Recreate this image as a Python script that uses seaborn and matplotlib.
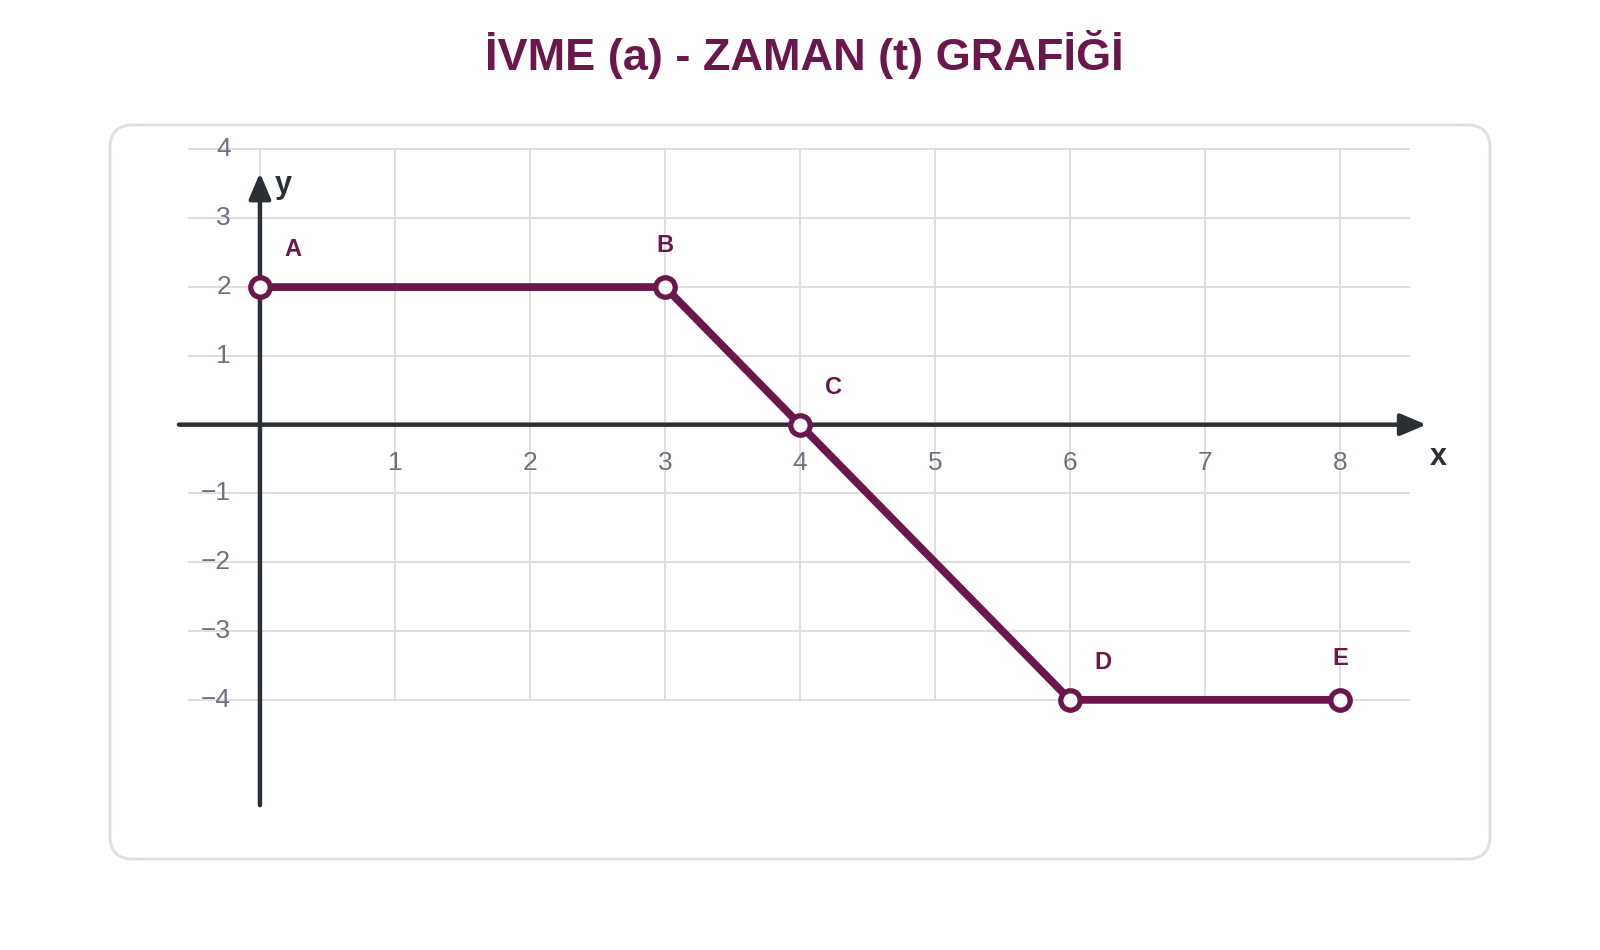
import matplotlib
matplotlib.use("Agg")
import matplotlib.pyplot as plt
from matplotlib.patches import FancyBboxPatch
import seaborn as sns
import pandas as pd

# ---- data ----
title = "İVME (a) - ZAMAN (t) GRAFİĞİ"
point_names = ["A", "B", "C", "D", "E"]
t_values = [0, 3, 4, 6, 8]
a_values = [2, 2, 0, -4, -4]
label_side = ["right", "above", "right", "right", "above"]
x_ticks = [1, 2, 3, 4, 5, 6, 7, 8]
y_ticks = [-4, -3, -2, -1, 1, 2, 3, 4]
grid_x = [0, 1, 2, 3, 4, 5, 6, 7, 8]
grid_y = [-4, -3, -2, -1, 0, 1, 2, 3, 4]

# ---- style ----
MAROON = "#6b174b"
AXIS = "#2b2f36"
GRID = "#dddbdc"
TICK = "#6e7280"

sns.set_theme(style="white")
plt.rcParams["font.family"] = ["Liberation Sans", "DejaVu Sans"]

fig = plt.figure(figsize=(16, 9.5), dpi=100)
fig.patch.set_facecolor("white")

# rounded frame (inches)
box = FancyBboxPatch((1.10, 0.91), 13.80, 7.34,
                     boxstyle="round,pad=0,rounding_size=0.23",
                     transform=fig.dpi_scale_trans, facecolor="white",
                     edgecolor="#e1dde0", linewidth=2.0, zorder=0)
fig.add_artist(box)

ax = fig.add_axes([0.1034, 0.1402, 0.8016, 0.7242])
ax.set_xlim(-0.7, 8.8)
ax.set_ylim(-5.7, 4.3)
ax.axis("off")

# grid
ax.hlines(grid_y, min(grid_x) - 0.53, max(grid_x) + 0.52, color=GRID, lw=1.3, zorder=1)
ax.vlines(grid_x, min(grid_y), max(grid_y), color=GRID, lw=1.3, zorder=1)

# axes with arrows
arrow_kw = dict(arrowstyle="-|>,head_length=0.78,head_width=0.33", color=AXIS,
                lw=3.2, shrinkA=0, shrinkB=0, mutation_scale=20, capstyle="round")
ax.annotate("", xy=(8.64, 0), xytext=(-0.6, 0), arrowprops=arrow_kw, zorder=2)
ax.annotate("", xy=(0, 3.66), xytext=(0, -5.53), arrowprops=arrow_kw, zorder=2)
ax.text(8.73, -0.47, "x", ha="center", va="center", fontsize=22,
        fontweight="bold", color=AXIS)
ax.text(0.17, 3.48, "y", ha="center", va="center", fontsize=22,
        fontweight="bold", color=AXIS)

# tick labels
for xv in x_ticks:
    ax.text(xv, -0.56, str(xv), ha="center", va="center", fontsize=19, color=TICK)
for yv in y_ticks:
    ax.text(-0.215, yv, str(yv).replace("-", "\u2212"), ha="right", va="center",
            fontsize=19, color=TICK)

# line with markers
df = pd.DataFrame({"t": t_values, "a": a_values, "name": point_names})
sns.lineplot(data=df, x="t", y="a", ax=ax, color=MAROON, linewidth=5.6,
             marker="o", markersize=14, markerfacecolor="white",
             markeredgecolor=MAROON, markeredgewidth=3.8, sort=False,
             zorder=4, clip_on=False)
ax.set_xlabel("")
ax.set_ylabel("")

offsets = {"right": (24, 27), "above": (0, 30)}
for name, tx, ay, side in zip(point_names, t_values, a_values, label_side):
    ax.annotate(name, xy=(tx, ay), xytext=offsets[side], textcoords="offset points",
                ha="center", va="center", fontsize=17, fontweight="bold",
                color=MAROON, zorder=5)

fig.text(0.5025, 0.926, title, ha="center", va="baseline", fontsize=32.5,
         fontweight="bold", color=MAROON)

fig.savefig("out.png", dpi=100, facecolor="white")
